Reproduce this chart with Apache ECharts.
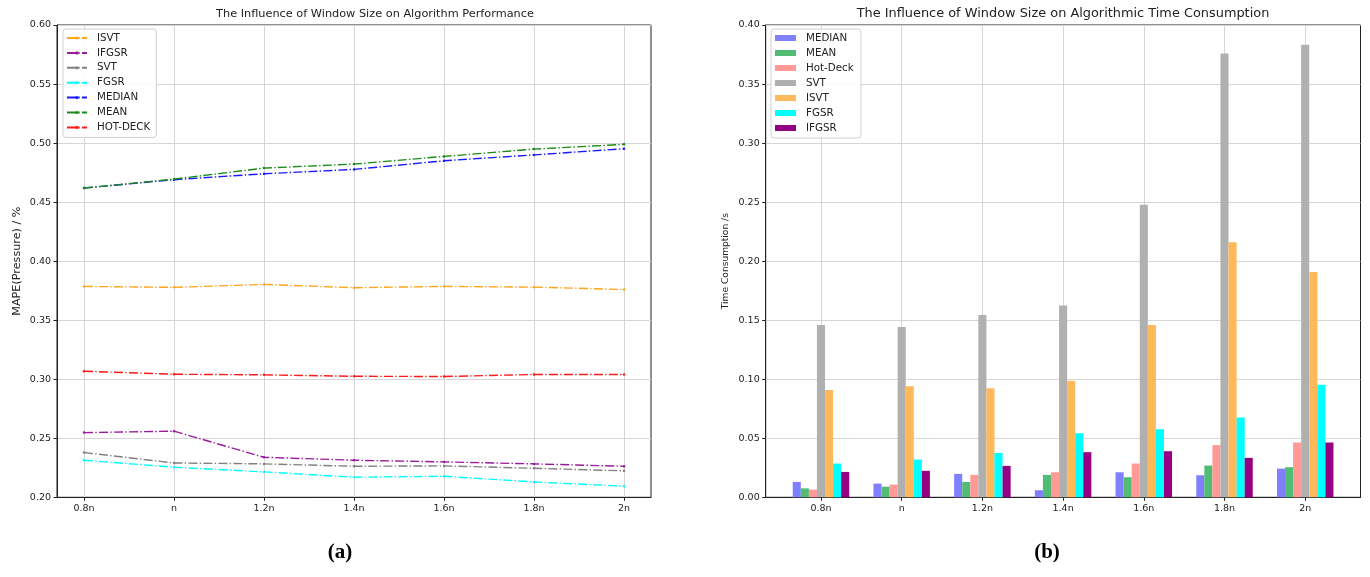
<!DOCTYPE html>
<html><head><meta charset="utf-8">
<script src="https://cdn.jsdelivr.net/npm/echarts@6/dist/echarts.min.js"></script>
<style>html,body{margin:0;padding:0;background:#fff}#c{width:1370px;height:577px}</style>
</head><body><div id="c"></div>
<script>
// ---- data ----
const windowSizes = ['0.8n', 'n', '1.2n', '1.4n', '1.6n', '1.8n', '2n'];

const lineNames = ['ISVT', 'IFGSR', 'SVT', 'FGSR', 'MEDIAN', 'MEAN', 'HOT-DECK'];
const mapeISVT    = [0.3786, 0.3778, 0.3803, 0.3775, 0.3786, 0.3780, 0.3760];
const mapeIFGSR   = [0.2548, 0.2560, 0.2339, 0.2314, 0.2300, 0.2283, 0.2263];
const mapeSVT     = [0.2379, 0.2291, 0.2283, 0.2263, 0.2266, 0.2246, 0.2224];
const mapeFGSR    = [0.2314, 0.2255, 0.2215, 0.2170, 0.2178, 0.2130, 0.2094];
const mapeMEDIAN  = [0.4619, 0.4690, 0.4740, 0.4777, 0.4850, 0.4900, 0.4952];
const mapeMEAN    = [0.4619, 0.4695, 0.4788, 0.4822, 0.4887, 0.4949, 0.4989];
const mapeHOTDECK = [0.3068, 0.3042, 0.3037, 0.3025, 0.3023, 0.3040, 0.3040];

const barNames = ['MEDIAN', 'MEAN', 'Hot-Deck', 'SVT', 'ISVT', 'FGSR', 'IFGSR'];
const timeMEDIAN  = [0.0130, 0.0116, 0.0198, 0.0060, 0.0212, 0.0187, 0.0243];
const timeMEAN    = [0.0076, 0.0090, 0.0130, 0.0190, 0.0170, 0.0269, 0.0255];
const timeHotDeck = [0.0065, 0.0108, 0.0190, 0.0212, 0.0286, 0.0442, 0.0464];
const timeSVT     = [0.1460, 0.1443, 0.1543, 0.1625, 0.2477, 0.3759, 0.3832];
const timeISVT    = [0.0909, 0.0940, 0.0923, 0.0988, 0.1460, 0.2160, 0.1908];
const timeFGSR    = [0.0286, 0.0320, 0.0376, 0.0543, 0.0577, 0.0676, 0.0954];
const timeIFGSR   = [0.0215, 0.0224, 0.0266, 0.0382, 0.0390, 0.0334, 0.0464];

const leftTitle = 'The Influence of Window Size on Algorithm Performance';
const rightTitle = 'The Influence of Window Size on Algorithmic Time Consumption';
const leftYName = 'MAPE(Pressure) / %';
const rightYName = 'Time Consumption /s';

// ---- styling ----
const FONT = 'DejaVu Sans';
const INK = '#222';
const lineColors = ['#ffa31a', '#9b1a9b', '#808080', '#00ffff', '#1a1aff', '#1a8a1a', '#ff1a1a'];
const barColors = ['#8080ff', '#52bb74', '#ff9a96', '#b0b0b0', '#ffb85a', '#00ffff', '#960082'];
const mapeSeries = [mapeISVT, mapeIFGSR, mapeSVT, mapeFGSR, mapeMEDIAN, mapeMEAN, mapeHOTDECK];
const timeSeries = [timeMEDIAN, timeMEAN, timeHotDeck, timeSVT, timeISVT, timeFGSR, timeIFGSR];
const idx = windowSizes.map((_, i) => i);
const toPairs = arr => arr.map((v, i) => [i, v]);
// right-chart names get a trailing space so legends stay independent
const barSeriesNames = barNames.map(n => n + ' ');

function xAxisCfg(grid, min, max) {
  return {
    gridIndex: grid, type: 'value', min: min, max: max,
    axisLine: { show: true, onZero: false, lineStyle: { color: INK, width: 1 } },
    axisTick: { show: true, customValues: idx, length: 3.5, lineStyle: { color: INK } },
    axisLabel: { customValues: idx, formatter: v => windowSizes[Math.round(v)] || '',
      fontSize: 9.5, color: INK, fontFamily: FONT, margin: 6 },
    splitLine: { show: true, lineStyle: { color: '#d6d6d6', width: 1 } }
  };
}
function yAxisCfg(grid, min, max, name, gap, nameSize) {
  return {
    gridIndex: grid, type: 'value', min: min, max: max, interval: 0.05,
    name: name, nameLocation: 'middle', nameGap: gap,
    nameTextStyle: { fontSize: nameSize, color: INK, fontFamily: FONT },
    axisLine: { show: true, onZero: false, lineStyle: { color: INK, width: 1 } },
    axisTick: { show: true, length: 3.5, lineStyle: { color: INK } },
    axisLabel: { formatter: v => v.toFixed(2), fontSize: 9.5, color: INK, fontFamily: FONT, margin: 6 },
    splitLine: { show: true, lineStyle: { color: '#d6d6d6', width: 1 } }
  };
}

const series = [];
lineNames.forEach((n, k) => {
  series.push({
    type: 'line', name: n, xAxisIndex: 0, yAxisIndex: 0,
    data: toPairs(mapeSeries[k]),
    symbol: 'circle', symbolSize: 2.5, showSymbol: true,
    itemStyle: { color: lineColors[k] },
    lineStyle: { color: lineColors[k], width: 1.4, type: [9, 2.3, 1.4, 2.3] },
    emphasis: { disabled: true }, z: 3
  });
});
barSeriesNames.forEach((n, k) => {
  series.push({
    type: 'bar', name: n, xAxisIndex: 1, yAxisIndex: 1,
    data: toPairs(timeSeries[k]),
    barWidth: 8.07, barGap: '0%',
    itemStyle: { color: barColors[k] },
    emphasis: { disabled: true }, z: 3
  });
});

const legendText = { fontSize: 10.3, color: INK, fontFamily: FONT, lineHeight: 12, padding: [0, 0, 0, 5] };

const option = {
  animation: false,
  backgroundColor: '#fff',
  grid: [
    { left: 57, top: 25, width: 594, height: 472.3, show: true, borderColor: INK, borderWidth: 1, backgroundColor: 'transparent' },
    { left: 765.7, top: 25, width: 594.8, height: 472.3, show: true, borderColor: INK, borderWidth: 1, backgroundColor: 'transparent' }
  ],
  xAxis: [xAxisCfg(0, -0.3, 6.3), xAxisCfg(1, -0.685, 6.685)],
  yAxis: [yAxisCfg(0, 0.2, 0.6, leftYName, 34, 11.2), yAxisCfg(1, 0, 0.4, rightYName, 36, 9.1)],
  legend: [
    { orient: 'vertical', left: 63, top: 29, data: lineNames, itemWidth: 20, itemHeight: 4, itemGap: 2.9,
      padding: [3, 6, 4, 3], backgroundColor: 'rgba(255,255,255,0.85)', borderColor: '#d0d0d0', borderWidth: 1, borderRadius: 3,
      textStyle: legendText, selectedMode: false },
    { orient: 'vertical', left: 771, top: 29, data: barSeriesNames, itemWidth: 21, itemHeight: 6, itemGap: 3,
      icon: 'rect', padding: [3, 4, 4, 4], backgroundColor: 'rgba(255,255,255,0.85)', borderColor: '#d0d0d0', borderWidth: 1, borderRadius: 3,
      textStyle: legendText, selectedMode: false }
  ],
  graphic: [
    { type: 'text', x: 375, y: 14, style: { text: leftTitle, align: 'center', verticalAlign: 'middle', fontSize: 11.3, fontFamily: FONT, fill: INK } },
    { type: 'text', x: 1063, y: 14, style: { text: rightTitle, align: 'center', verticalAlign: 'middle', fontSize: 12.9, fontFamily: FONT, fill: INK } },
    { type: 'text', x: 340, y: 553, style: { text: '(a)', align: 'center', verticalAlign: 'middle', fontSize: 21, fontWeight: 'bold', fontFamily: 'Liberation Serif', fill: '#000' } },
    { type: 'text', x: 1047, y: 553, style: { text: '(b)', align: 'center', verticalAlign: 'middle', fontSize: 21, fontWeight: 'bold', fontFamily: 'Liberation Serif', fill: '#000' } }
  ],
  series: series
};
const chart = echarts.init(document.getElementById('c'), null, { renderer: 'canvas' });
chart.setOption(option);
</script>
</body></html>
